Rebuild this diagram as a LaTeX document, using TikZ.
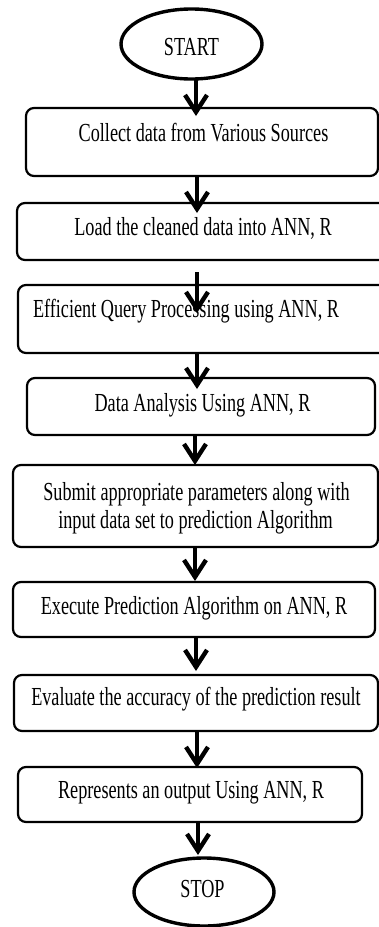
\documentclass[tikz,border=0pt]{standalone}
\usepackage{fontspec}
\setmainfont{Liberation Serif}[FakeStretch=0.70]
\usetikzlibrary{arrows.meta,shapes.geometric}
\begin{document}
\begin{tikzpicture}[x=1pt,y=-1pt,
  term/.style={draw,ellipse,line width=3.4pt,minimum width=#1,inner sep=0pt},
  procbox/.style={draw,line width=2.2pt,rounded corners=8pt},
  lbl/.style={anchor=base,inner sep=0pt,font=\fontsize{26}{31}\selectfont},
  flow/.style={line width=4.4pt,-{Straight Barb[length=17pt,width=22pt,line width=4.4pt]}}]
\useasboundingbox (0,0) rectangle (379,927);
\clip (0,0) rectangle (379,927);
% terminals
\node[term=141pt,minimum height=70pt] (start) at (191.5,44) {};
\node[term=140pt,minimum height=68pt] (stop) at (204,892) {};
% process boxes
\path[procbox] (26,108) rectangle (378,176) node[midway,inner sep=0pt] (b1) {};
\path[procbox] (17,203) rectangle (395,260) node[midway,inner sep=0pt] (b2) {};
\path[procbox] (18,285) rectangle (395,353) node[midway,inner sep=0pt] (b3) {};
\path[procbox] (27,378) rectangle (375,435) node[midway,inner sep=0pt] (b4) {};
\path[procbox] (13,465) rectangle (378,547) node[midway,inner sep=0pt] (b5) {};
\path[procbox] (13,582) rectangle (375,637) node[midway,inner sep=0pt] (b6) {};
\path[procbox] (14,675) rectangle (378,731) node[midway,inner sep=0pt] (b7) {};
\path[procbox] (18,767) rectangle (362,822) node[midway,inner sep=0pt] (b8) {};
% texts
\node[lbl] (t0) at (191.5,55) {START};
\node[lbl] (t1) at (203.5,141) {Collect data from Various Sources};
\node[lbl] (t2) at (203,235) {Load the cleaned data into ANN, R};
\node[lbl] (t3) at (186,317) {Efficient Query Processing using ANN, R};
\node[lbl] (t4) at (202.5,411) {Data Analysis Using ANN, R};
\node[lbl] (t5a) at (196.5,500) {Submit appropriate parameters along with};
\node[lbl] (t5b) at (195.5,528) {input data set to prediction Algorithm};
\node[lbl] (t6) at (194,614) {Execute Prediction Algorithm on ANN, R};
\node[lbl] (t7) at (196,705) {Evaluate the accuracy of the prediction result};
\node[lbl] (t8) at (191,798) {Represents an output Using ANN, R};
\node[lbl] (t9) at (202.5,897) {STOP};
% arrow end points
\coordinate (a1s) at (196,79);  \coordinate (a1e) at (196,116);
\coordinate (a2s) at (197,176); \coordinate (a2e) at (197,213);
\coordinate (a3s) at (197,272); \coordinate (a3e) at (197,313);
\coordinate (a4s) at (197,353); \coordinate (a4e) at (197,389);
\coordinate (a5s) at (195,435); \coordinate (a5e) at (195,465);
\coordinate (a6s) at (195,547); \coordinate (a6e) at (195,581);
\coordinate (a7s) at (196,637); \coordinate (a7e) at (196,671);
\coordinate (a8s) at (197,731); \coordinate (a8e) at (197,768);
\coordinate (a9s) at (198,822); \coordinate (a9e) at (198,855);
\foreach \i in {1,...,9} {\draw[flow] (a\i s) -- (a\i e);}
\end{tikzpicture}
\end{document}
